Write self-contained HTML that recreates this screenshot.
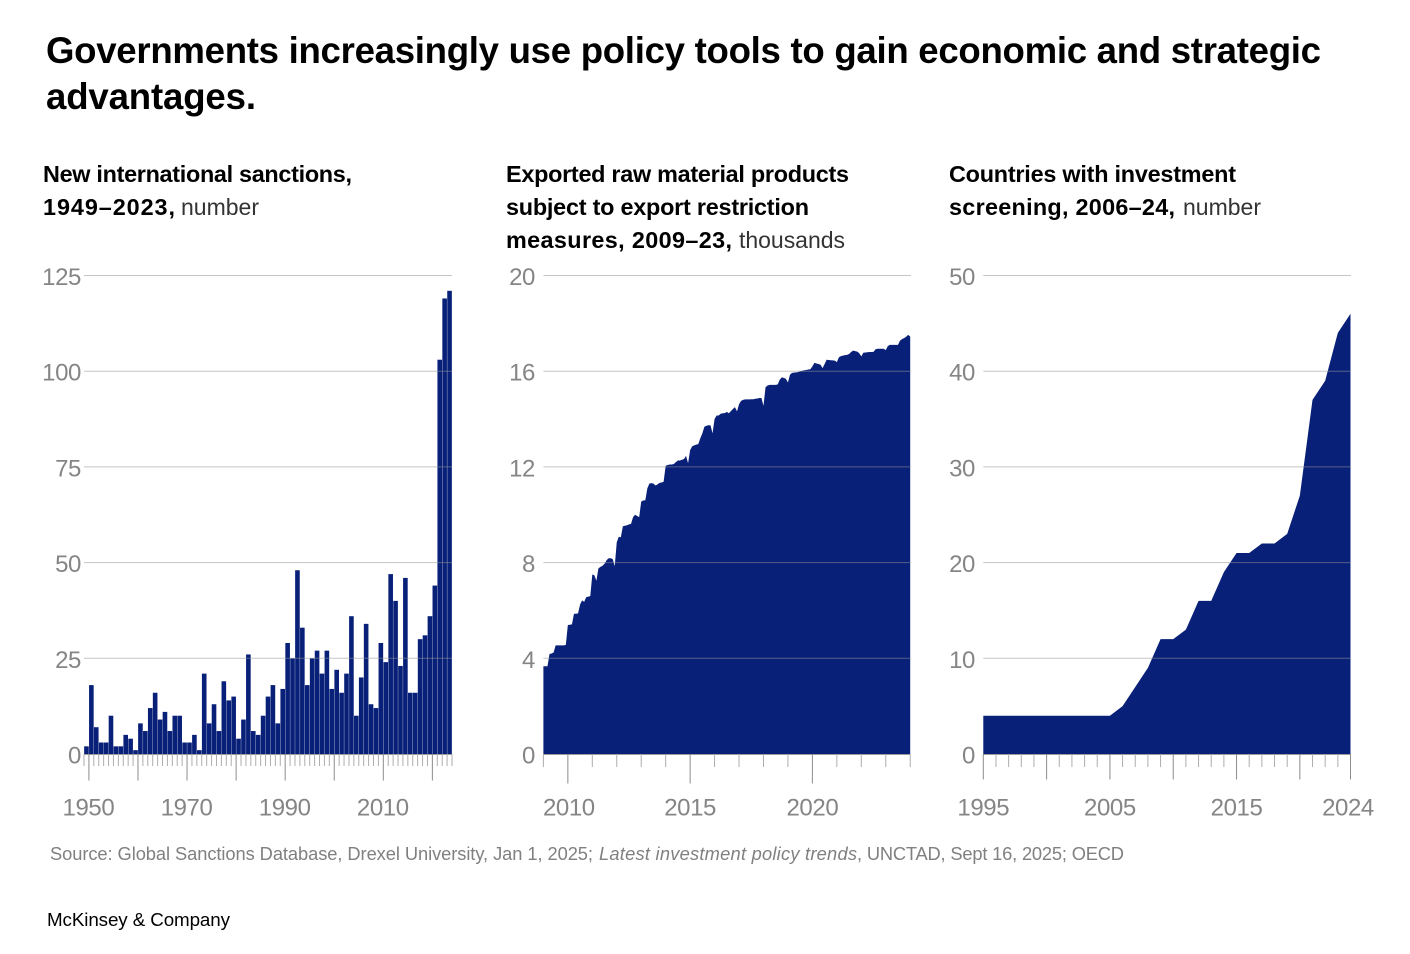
<!DOCTYPE html>
<html lang="en">
<head>
<meta charset="utf-8">
<title>Governments increasingly use policy tools</title>
<style>
html,body{margin:0;padding:0;background:#fff;}
#stage{display:block;width:1410px;height:954px;}
text{font-family:"Liberation Sans",sans-serif;}
.title{font-size:36.6px;font-weight:700;fill:#000;}
.sub{font-size:23.4px;font-weight:700;fill:#000;}
.unit{font-size:23px;font-weight:400;fill:#333;}
.src{font-size:18.3px;fill:#808080;}
.brand{font-size:18.8px;fill:#000;}
.tick-label{font-size:24px;fill:#858585;letter-spacing:-0.4px;}
</style>
</head>
<body>
<svg id="stage" xmlns="http://www.w3.org/2000/svg" width="1410" height="954" viewBox="0 0 1410 954">
  <rect width="1410" height="954" fill="#fff"/>
  <text class="title" x="46" y="63" textLength="1275" lengthAdjust="spacing">Governments increasingly use policy tools to gain economic and strategic</text>
  <text class="title" x="46" y="109" textLength="210" lengthAdjust="spacing">advantages.</text>

  <text class="sub" x="43" y="182" textLength="309" lengthAdjust="spacing">New international sanctions,</text>
  <text class="sub" x="43" y="215" textLength="132" lengthAdjust="spacing">1949–2023,</text>
  <text class="unit" x="181" y="215" textLength="78" lengthAdjust="spacing">number</text>

  <text class="sub" x="506" y="182" textLength="343" lengthAdjust="spacing">Exported raw material products</text>
  <text class="sub" x="506" y="215" textLength="303" lengthAdjust="spacing">subject to export restriction</text>
  <text class="sub" x="506" y="248" textLength="226" lengthAdjust="spacing">measures, 2009–23,</text>
  <text class="unit" x="739" y="248" textLength="106" lengthAdjust="spacing">thousands</text>

  <text class="sub" x="949" y="182" textLength="287" lengthAdjust="spacing">Countries with investment</text>
  <text class="sub" x="949" y="215" textLength="226" lengthAdjust="spacing">screening, 2006–24,</text>
  <text class="unit" x="1183" y="215" textLength="78" lengthAdjust="spacing">number</text>

  <g id="chart-sanctions"></g>
  <g id="chart-materials"></g>
  <g id="chart-screening"></g>

  <text class="src" x="50" y="860" textLength="543" lengthAdjust="spacing">Source: Global Sanctions Database, Drexel University, Jan 1, 2025;</text>
  <text class="src" x="599" y="860" font-style="italic" textLength="258" lengthAdjust="spacing">Latest investment policy trends</text>
  <text class="src" x="857" y="860" textLength="267" lengthAdjust="spacing">, UNCTAD, Sept 16, 2025; OECD</text>
  <text class="brand" x="47" y="926" textLength="183" lengthAdjust="spacing">McKinsey &amp; Company</text>
</svg>

<script>
const sanctionsStartYear = 1949;
const sanctionsValues = [2,18,7,3,3,10,2,2,5,4,1,8,6,12,16,9,11,6,10,10,3,3,5,1,21,8,13,6,19,14,15,4,9,26,6,5,10,15,18,8,17,29,25,48,33,18,25,27,21,27,17,22,16,21,36,10,20,34,13,12,29,24,47,40,23,46,16,16,30,31,36,44,103,119,121];
const sanctionsYTicks = [0,25,50,75,100,125];
const sanctionsXMajor = [1950,1960,1970,1980,1990,2000,2010,2020];
const sanctionsXLabels = [1950,1970,1990,2010];

const materialsStartYear = 2009;
const materialsPointsPerYear = 12;
const materialsValues = [3.67,3.67,3.67,4.18,4.2,4.24,4.54,4.54,4.54,4.54,4.54,4.56,5.39,5.4,5.42,5.86,5.86,5.88,6.25,6.42,6.36,6.55,6.58,6.6,7.5,7.47,7.24,7.76,7.82,7.87,7.95,8.1,8.18,8.18,8.15,7.85,8.85,9.08,9.06,9.52,9.54,9.56,9.6,9.62,9.9,10.0,9.95,9.9,10.55,10.6,10.6,11.1,11.3,11.32,11.3,11.22,11.27,11.33,11.35,11.38,12.05,12.08,12.1,12.1,12.12,12.2,12.27,12.27,12.3,12.33,12.46,12.15,12.7,12.86,12.9,12.93,12.95,13.2,13.4,13.68,13.72,13.74,13.74,13.4,14.0,14.15,14.15,14.22,14.24,14.25,14.3,14.24,14.33,14.42,14.5,14.32,14.62,14.76,14.8,14.82,14.82,14.82,14.83,14.83,14.85,14.86,14.88,14.88,14.55,15.33,15.4,15.43,15.43,15.43,15.43,15.45,15.65,15.74,15.72,15.68,15.53,15.85,15.93,15.94,15.95,15.96,16.0,16.02,16.04,16.05,16.07,16.08,16.2,16.35,16.32,16.3,16.27,16.13,16.3,16.48,16.47,16.46,16.45,16.44,16.38,16.58,16.63,16.65,16.67,16.68,16.72,16.8,16.86,16.84,16.82,16.75,16.62,16.77,16.78,16.79,16.8,16.8,16.81,16.92,16.94,16.94,16.94,16.94,16.88,17.05,17.1,17.1,17.1,17.1,17.1,17.28,17.34,17.38,17.44,17.52,17.45];
const materialsYTicks = [0,4,8,12,16,20];
const materialsXMajor = [2010,2015,2020];
const materialsXLabels = [2010,2015,2020];

const screeningYears = [1995,1996,1997,1998,1999,2000,2001,2002,2003,2004,2005,2006,2007,2008,2009,2010,2011,2012,2013,2014,2015,2016,2017,2018,2019,2020,2021,2022,2023,2024];
const screeningValues = [4,4,4,4,4,4,4,4,4,4,4,5,7,9,12,12,13,16,16,19,21,21,22,22,23,27,37,39,44,46];
const screeningYTicks = [0,10,20,30,40,50];
const screeningXMajor = [1995,2000,2005,2010,2015,2020,2024];
const screeningXLabels = [1995,2005,2015,2024];

const NS = 'http://www.w3.org/2000/svg';
const NAVY = '#082078';
const GRID = 'rgba(150,150,150,.55)';
const Y_BASE = 754;
const Y_TOP = 275.5;

function make(parent, tag) {
  const el = document.createElementNS(NS, tag);
  parent.appendChild(el);
  return el;
}
function linear(d0, d1, r0, r1) {
  return function (v) { return r0 + (v - d0) / (d1 - d0) * (r1 - r0); };
}
function line(parent, x1, y1, x2, y2, stroke) {
  const el = make(parent, 'line');
  el.setAttribute('x1', x1);
  el.setAttribute('y1', y1);
  el.setAttribute('x2', x2);
  el.setAttribute('y2', y2);
  el.setAttribute('stroke', stroke);
  el.setAttribute('stroke-width', 1);
  return el;
}
function label(parent, x, y, str, anchor) {
  const el = make(parent, 'text');
  el.setAttribute('class', 'tick-label');
  el.setAttribute('x', x);
  el.setAttribute('y', y);
  el.setAttribute('text-anchor', anchor);
  el.textContent = str;
  return el;
}
function drawGrid(g, yTicks, y, x0, x1, labelRight) {
  yTicks.forEach(function (t) {
    if (t !== 0) {
      const gl = line(g, x0, y(t), x1, y(t), GRID);
      
      
    }
    const lab = label(g, labelRight, y(t) + 9.5, String(t), 'end');
    
    
  });
}
function drawXAxis(g, first, last, xTick, major, labels, minorEnd, majorEnd, labelX) {
  const base = line(g, xTick(first), Y_BASE + 0.5, xTick(last), Y_BASE + 0.5, '#9a9a9a');
  
  
  for (let yr = first; yr <= last; yr++) {
    const isMajor = major.indexOf(yr) >= 0;
    const t = line(g, xTick(yr), Y_BASE, xTick(yr), isMajor ? majorEnd : minorEnd, isMajor ? '#8c8c8c' : '#adadad');
    
    
  }
  labels.forEach(function (yr) {
    const lab = label(g, labelX(yr), 815.5, String(yr), 'middle');
    
    
  });
}

/* Sanctions: bars */
(function () {
  const g = document.getElementById('chart-sanctions');
  const y = linear(0, 125, Y_BASE, Y_TOP);
  const n = sanctionsValues.length;
  const x = linear(sanctionsStartYear, sanctionsStartYear + n, 84, 452);
  const step = x(sanctionsStartYear + 1) - x(sanctionsStartYear);
  sanctionsValues.forEach(function (v, i) {
    const b = make(g, 'rect');
    b.setAttribute('x', x(sanctionsStartYear + i) + 0.15);
    b.setAttribute('y', y(v));
    b.setAttribute('width', step - 0.3);
    b.setAttribute('height', Y_BASE - y(v));
    b.setAttribute('fill', NAVY);
    
    
  });
  drawGrid(g, sanctionsYTicks, y, 84, 452, 81);
  drawXAxis(g, sanctionsStartYear, sanctionsStartYear + n, x, sanctionsXMajor, sanctionsXLabels, 766, 780.5, function (yr) { return x(yr) - 0.5; });
})();

/* Raw materials: area */
(function () {
  const g = document.getElementById('chart-materials');
  const y = linear(0, 20, Y_BASE, Y_TOP);
  const x = linear(2009, 2024, 543.4, 910.2);
  const count = materialsValues.length;
  let d = 'M' + x(materialsStartYear) + ' ' + Y_BASE;
  materialsValues.forEach(function (v, i) {
    d += 'L' + x(materialsStartYear + i / materialsPointsPerYear).toFixed(2) + ' ' + y(v).toFixed(2);
  });
  d += 'L' + x(materialsStartYear + (count - 1) / materialsPointsPerYear).toFixed(2) + ' ' + Y_BASE + 'Z';
  const area = make(g, 'path');
  area.setAttribute('d', d);
  area.setAttribute('fill', NAVY);
  
  
  drawGrid(g, materialsYTicks, y, 543.4, 911, 535);
  drawXAxis(g, 2009, 2024, x, materialsXMajor, materialsXLabels, 767, 783.5, function (yr) { return x(yr) + (yr === 2010 ? 1 : 0); });
})();

/* Screening: area */
(function () {
  const g = document.getElementById('chart-screening');
  const y = linear(0, 50, Y_BASE, Y_TOP);
  const x = linear(1995, 2024, 983.3, 1350.5);
  let d = 'M' + x(screeningYears[0]) + ' ' + Y_BASE;
  screeningValues.forEach(function (v, i) {
    d += 'L' + x(screeningYears[i]).toFixed(2) + ' ' + y(v).toFixed(2);
  });
  d += 'L' + x(screeningYears[screeningYears.length - 1]).toFixed(2) + ' ' + Y_BASE + 'Z';
  const area = make(g, 'path');
  area.setAttribute('d', d);
  area.setAttribute('fill', NAVY);
  
  
  drawGrid(g, screeningYTicks, y, 983.3, 1351, 975);
  drawXAxis(g, 1995, 2024, x, screeningXMajor, screeningXLabels, 767, 779.5, function (yr) { return x(yr) - (yr === 2024 ? 2.5 : 0); });
})();
</script>
</body>
</html>
